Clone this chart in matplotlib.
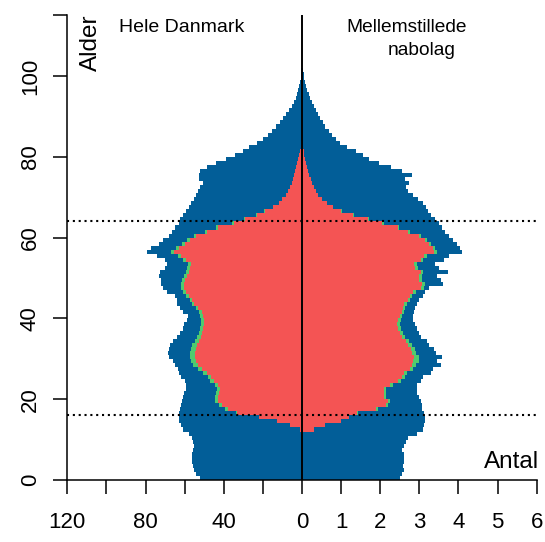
import numpy as np
import matplotlib
matplotlib.use("Agg")
import matplotlib.pyplot as plt

plt.rcParams['font.family'] = ['Liberation Sans', 'DejaVu Sans']

# ---------------------------------------------------------
# DATA (1000 personer per alder, alder 0..104)
# ---------------------------------------------------------
ages = np.arange(105)

# Hele Danmark: befolkning i alt
dk_total = [
    52, 54, 55, 55.5, 56, 56, 56, 55.5, 55, 55.5,
    56, 58, 61, 62, 63, 63, 63, 62.5, 62, 61.5,
    61, 60.5, 59.5, 59.5, 60, 62, 63, 63.5, 65, 66,
    68, 68.5, 68, 67.5, 66, 64, 62.5, 61, 60.5, 59,
    58.5, 61, 62.5, 64, 64, 65, 69, 71, 72, 72,
    73, 72.5, 70, 69, 70, 74, 79.5, 77, 73, 71,
    68, 66.5, 65, 63, 62.5, 61, 59.5, 58, 56.5, 55,
    54, 53, 52, 50.5, 52.5, 52.5, 52, 48.5, 44, 39,
    34.5, 30, 27, 23, 20, 17.5, 15.5, 13.5, 11, 9.5,
    8, 6.5, 5.2, 4, 3.2, 2.5, 1.9, 1.4, 1.0, 0.7,
    0.5, 0.3, 0.2, 0.1, 0.05,
]

# Hele Danmark: beskaeftigede
dk_employed = [
    0, 0, 0, 0, 0, 0, 0, 0, 0, 0,
    0, 0, 1, 6, 13, 22, 33, 38, 41, 43,
    43, 42.5, 42, 43, 45, 46.5, 48.5, 51, 53, 54,
    54.5, 54.5, 54, 53.5, 52.5, 51.5, 51, 50.5, 50, 50,
    50.5, 51, 53, 55, 56, 58, 59.5, 60.5, 60.5, 60,
    59, 58, 57.5, 57, 59.5, 62, 65.5, 63, 60, 57.5,
    54, 48.5, 43, 35, 29, 23, 19, 15, 12, 10,
    8, 7, 6, 5.3, 4.7, 4.2, 3.6, 3.0, 2.5, 2.0,
    1.6, 1.1, 0.7, 0.3, 0.1, 0, 0, 0, 0, 0,
    0, 0, 0, 0, 0, 0, 0, 0, 0, 0,
    0, 0, 0, 0, 0,
]

# Hele Danmark: ledige (alder 16..66)
dk_unemployed = [
    1.0, 1.2, 1.5, 1.5, 1.5, 1.5, 1.5, 1.6, 1.8, 1.8,
    2.0, 2.2, 2.5, 2.8, 3.0, 3.0, 2.8, 2.5, 2.3, 2.0,
    1.8, 1.6, 1.6, 1.5, 1.5, 1.5, 1.4, 1.4, 1.4, 1.4,
    1.4, 1.4, 1.4, 1.4, 1.4, 1.4, 1.4, 1.4, 1.4, 1.5,
    1.5, 1.5, 1.4, 1.3, 1.2, 1.0, 0.9, 0.8, 0.8, 0.6,
    0.4,
]

# Mellemstillede nabolag: befolkning i alt
nb_total = [
    2.5, 2.55, 2.6, 2.58, 2.6, 2.62, 2.6, 2.55, 2.62, 2.65,
    2.7, 2.95, 3.1, 3.12, 3.15, 3.15, 3.12, 3.08, 3.06, 3.05,
    3.0, 2.95, 2.93, 2.95, 3.05, 3.1, 3.3, 3.35, 3.55, 3.45,
    3.58, 3.42, 3.38, 3.25, 3.2, 3.05, 3.0, 2.95, 2.9, 2.85,
    2.85, 2.87, 2.88, 2.95, 2.98, 3.1, 3.15, 3.25, 3.6, 3.55,
    3.45, 3.72, 3.5, 3.4, 3.62, 3.75, 4.1, 4.05, 3.95, 3.85,
    3.75, 3.65, 3.58, 3.5, 3.4, 3.3, 3.22, 3.18, 3.1, 2.97,
    2.85, 2.7, 2.66, 2.73, 2.64, 2.8, 2.55, 2.27, 1.97, 1.72,
    1.55, 1.38, 1.16, 0.97, 0.86, 0.76, 0.68, 0.6, 0.53, 0.47,
    0.42, 0.36, 0.3, 0.25, 0.21, 0.17, 0.14, 0.11, 0.08, 0.06,
    0.04, 0.02, 0.01, 0, 0,
]

# Mellemstillede nabolag: beskaeftigede
nb_employed = [
    0, 0, 0, 0, 0, 0, 0, 0, 0, 0,
    0, 0, 0.3, 0.6, 1.0, 1.2, 1.4, 1.9, 2.15, 2.2,
    2.1, 2.1, 2.1, 2.25, 2.45, 2.55, 2.6, 2.75, 2.8, 2.85,
    2.87, 2.8, 2.78, 2.7, 2.65, 2.55, 2.5, 2.45, 2.44, 2.46,
    2.5, 2.55, 2.58, 2.62, 2.7, 2.75, 2.85, 3.05, 3.08, 3.0,
    3.0, 3.04, 2.9, 2.87, 3.04, 3.13, 3.38, 3.35, 3.25, 3.15,
    3.0, 2.72, 2.45, 2.05, 1.68, 1.3, 1.0, 0.8, 0.65, 0.52,
    0.42, 0.36, 0.3, 0.26, 0.22, 0.18, 0.16, 0.13, 0.11, 0.08,
    0.06, 0.04, 0.02, 0.01, 0, 0, 0, 0, 0, 0,
    0, 0, 0, 0, 0, 0, 0, 0, 0, 0,
    0, 0, 0, 0, 0,
]

# Mellemstillede nabolag: ledige (alder 16..66)
nb_unemployed = [
    0.04, 0.05, 0.06, 0.06, 0.06, 0.06, 0.06, 0.07, 0.07, 0.08,
    0.09, 0.10, 0.12, 0.13, 0.13, 0.12, 0.11, 0.10, 0.09, 0.08,
    0.07, 0.07, 0.06, 0.06, 0.06, 0.06, 0.06, 0.06, 0.06, 0.06,
    0.06, 0.06, 0.06, 0.06, 0.06, 0.06, 0.06, 0.06, 0.06, 0.06,
    0.06, 0.06, 0.05, 0.05, 0.05, 0.05, 0.04, 0.04, 0.04, 0.03,
    0.03,
]
unemp_ages = np.arange(16, 67)

left_scale = 20  # venstre side: 1000 personer / 20

col_total = "#025E98"
col_unemp = "#4FCB6E"
col_emp = "#F45454"

# ---------------------------------------------------------
# PLOT
# ---------------------------------------------------------
fig = plt.figure(figsize=(5.45, 5.42), dpi=100)
ax = fig.add_axes([67.3 / 545, 62 / 542, 469.4 / 545, 464.6 / 542])

dk_total = np.array(dk_total)
dk_emp = np.array(dk_employed)
nb_total = np.array(nb_total)
nb_emp = np.array(nb_employed)
dk_lab = dk_emp.copy()
dk_lab[unemp_ages] += np.array(dk_unemployed)
nb_lab = nb_emp.copy()
nb_lab[unemp_ages] += np.array(nb_unemployed)

kw = dict(height=1, align="edge", linewidth=0, antialiased=False)
ax.barh(ages, -dk_total / left_scale, color=col_total, **kw)
ax.barh(ages, nb_total, color=col_total, **kw)
ax.barh(ages, -dk_lab / left_scale, color=col_unemp, **kw)
ax.barh(ages, nb_lab, color=col_unemp, **kw)
ax.barh(ages, -dk_emp / left_scale, color=col_emp, **kw)
ax.barh(ages, nb_emp, color=col_emp, **kw)

ax.axvline(0, color="black", lw=1.4)
for a in (16, 64):
    ax.axhline(a, color="black", lw=1.5, linestyle=(0, (1, 1.8)))

ax.set_xlim(-6, 6)
ax.set_ylim(0, 115)

for s in ("top", "right"):
    ax.spines[s].set_visible(False)
for s in ("left", "bottom"):
    ax.spines[s].set_linewidth(1.1)

xt = np.arange(-6, 7)
xl = ["120", "", "80", "", "40", "", "0", "1", "2", "3", "4", "5", "6"]
ax.set_xticks(xt)
ax.set_xticklabels(xl, fontsize=16)
yt = [0, 20, 40, 60, 80, 100, 115]
ax.set_yticks(yt)
ax.set_yticklabels(["0", "20", "40", "60", "80", "100", ""], fontsize=16,
                   rotation=90, va="center")
ax.tick_params(axis="x", length=10, width=1.1, pad=13)
ax.tick_params(axis="y", length=10, width=1.1, pad=9)

ax.text(-5.4, 108.2, "Alder", rotation=90, ha="center", va="center", fontsize=17.5)
ax.text(-3.07, 111.9, "Hele Danmark", ha="center", va="center", fontsize=14)
ax.text(2.67, 111.9, "Mellemstillede", ha="center", va="center", fontsize=13.8)
ax.text(3.07, 106.3, "nabolag", ha="center", va="center", fontsize=13.8)
ax.text(6.05, 4.5, "Antal", ha="right", va="center", fontsize=17.5)

fig.savefig("out.png", dpi=100)
